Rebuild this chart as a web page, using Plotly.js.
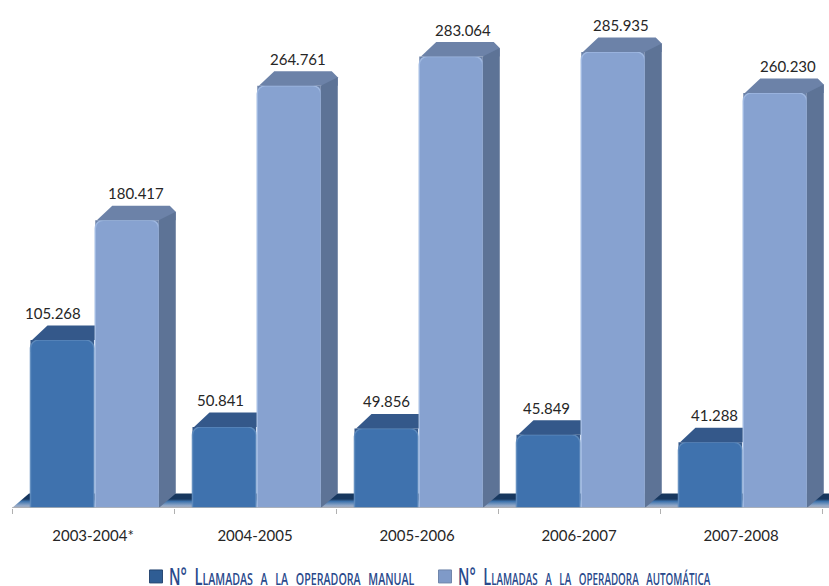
<!DOCTYPE html>
<html><head><meta charset="utf-8">
<script src="https://cdn.plot.ly/plotly-3.0.1.min.js"></script>
<style>html,body{margin:0;padding:0;background:#fff}</style></head>
<body><div id="chart" style="width:829px;height:586px"></div>
<script>
const categories = ['2003-2004*','2004-2005','2005-2006','2006-2007','2007-2008'];
const manual = [105268,50841,49856,45849,41288];
const automatica = [180417,264761,283064,285935,260230];
const manualLabels = ['105.268','50.841','49.856','45.849','41.288'];
const autoLabels = ['180.417','264.761','283.064','285.935','260.230'];
const manualNudge = [-9,-4,0,-2,4];
const autoNudge = [9,9,12,8,13];
const nameManual = 'N°  Llamadas  a  la  operadora  manual';
const nameAuto = 'N°  Llamadas  a  la  operadora  automática';

const W = 829, H = 586, left = 12, base = 508;
const pxX = 162, pxY = 1.595/1000;           // pixels per axis unit
const plotH = base, plotW = W-left;
const dx = 17/pxX, rise = 14.5/pxY, chX = 6/pxX, chY = 6/pxY;
const barW = 0.392, gap = 0.008, shift = 0.01;
const centers = categories.map((c,i)=>i+0.5+shift);
const edges = categories.map((c,i)=>i).concat([categories.length]);
const xMax = plotW/pxX, yMax = plotH/pxY;
const L0 = c=>c-gap/2-barW, R0 = c=>c-gap/2, L1 = c=>c+gap/2, R1 = c=>c+gap/2+barW;
const topDark = '#34588a', topLight = '#6c82a8', sideLight = '#5d7396';

function poly(xs,ys,color,z){return {type:'scatter',mode:'lines',x:xs,y:ys,fill:'toself',fillcolor:color,
  line:{width:0,color:color},hoverinfo:'skip',showlegend:false,zorder:z};}

const traces = [];
traces.push({type:'scatter',mode:'lines',x:[0,dx,xMax,xMax,0],y:[0,rise,rise,0,0],fill:'toself',
  line:{width:0},hoverinfo:'skip',showlegend:false,zorder:0,
  fillgradient:{type:'vertical',colorscale:[[0,'#a9afbd'],[0.18,'#8fa6c6'],[0.45,'#3f74ad'],[0.62,'#17375e'],[1,'#17375e']]}});
traces.push({type:'bar',name:nameManual,x:centers,y:manual,width:barW,offset:-gap/2-barW,zorder:2,
  marker:{color:'#3f72ae',line:{color:'rgba(95,140,190,0.9)',width:1.5},cornerradius:8},hoverinfo:'y'});
traces.push({type:'bar',name:nameAuto,x:centers,y:automatica,width:barW,offset:gap/2,zorder:2,
  marker:{color:'#87a2d0',line:{color:'rgba(160,185,225,0.95)',width:1.5},cornerradius:8},hoverinfo:'y'});
centers.forEach((c,i)=>{
  const a=manual[i], b=automatica[i], t=b+rise;
  traces.push(poly([L0(c),R0(c),R0(c),L0(c),L0(c)],[a-2*chY,a-2*chY,a,a,a-2*chY],topDark,1));
  traces.push(poly([L1(c),R1(c),R1(c),L1(c),L1(c)],[b-2*chY,b-2*chY,b,b,b-2*chY],topLight,1));
  traces.push(poly([L0(c)+0.01,L0(c)+dx,L1(c)-0.004,L1(c)-0.004,L0(c)+0.01],[a,a+rise,a+rise,a,a],topDark,3));
  traces.push(poly([L1(c)+0.01,L1(c)+dx,R1(c)+dx-chX,R1(c)+dx,R1(c)+dx,R1(c),L1(c)+0.01],[b,t,t,t-chY,b,b,b],topLight,3));
  traces.push(poly([R1(c),R1(c)+dx,R1(c)+dx,R1(c),R1(c)],[0,rise,t-chY,b,0],sideLight,3));
});
const annotations = [];
centers.forEach((c,i)=>{
  annotations.push({x:(L0(c)+R0(c))/2,y:manual[i],text:manualLabels[i],showarrow:false,xshift:manualNudge[i],yshift:27,
    font:{family:'Lato, sans-serif',size:15,color:'#262626'}});
  annotations.push({x:(L1(c)+R1(c))/2,y:automatica[i],text:autoLabels[i],showarrow:false,xshift:autoNudge[i],yshift:27,
    font:{family:'Lato, sans-serif',size:15,color:'#262626'}});
});
const layout = {
  width:W,height:H,margin:{l:0,r:0,t:0,b:0},paper_bgcolor:'#fff',plot_bgcolor:'rgba(0,0,0,0)',
  barmode:'overlay',
  xaxis:{domain:[left/W,1],range:[0,xMax],tickmode:'array',tickvals:categories.map((c,i)=>i+0.5),ticktext:categories,
    ticks:'outside',ticklen:14,tickcolor:'rgba(0,0,0,0)',showgrid:false,zeroline:false,showline:false,automargin:false,
    tickfont:{family:'Lato, sans-serif',size:15,color:'#262626'},
    minor:{tickmode:'array',tickvals:edges,ticks:'outside',ticklen:5,tickcolor:'#b0b0b0',tickwidth:1,showgrid:false}},
  yaxis:{domain:[1-base/H,1],range:[0,yMax],visible:false,fixedrange:true},
  shapes:[{type:'line',xref:'x',yref:'y',x0:0,x1:edges[edges.length-1],y0:0,y1:0,line:{color:'#b0b0b0',width:1.5}}],
  showlegend:true,
  legend:{orientation:'h',x:136/W,y:60/H,xanchor:'left',yanchor:'top',itemwidth:30,entrywidth:244,entrywidthmode:'pixels',traceorder:'normal',
    font:{family:'"Liberation Sans Narrow","Open Sans",sans-serif',size:23,weight:600,color:'#2a4a8c',variant:'small-caps'},itemclick:false,itemdoubleclick:false},
  annotations:annotations
};
const legendWidths = [238,258];
const iconFill = ['#2f5d94','#7f9ac8'], iconStroke = ['#1f3f6a','#6c82a8'];
Plotly.newPlot('chart',traces,layout,{displayModeBar:false,staticPlot:true}).then(()=>{
  document.querySelectorAll('.legend .legendtext').forEach((t,i)=>{
    const sx = legendWidths[i]/t.getComputedTextLength();
    t.setAttribute('x',0);
    t.setAttribute('transform','translate(33,0) scale('+sx+',1)');
  });
  document.querySelectorAll('.legend .legendbar path, .legend .legendpoints path').forEach((p,i)=>{
    p.setAttribute('d','M6.5,6.5H-6.5V-6.5H6.5Z');
    p.style.fill=iconFill[i];p.style.stroke=iconStroke[i];p.style.strokeWidth='1px';
  });
  document.querySelectorAll('.legend [clip-path]').forEach(e=>e.removeAttribute('clip-path'));
  const lg=document.querySelector('.legend');
  lg.removeAttribute('clip-path');
  const m=/translate\(([-\d.]+),\s*([-\d.]+)\)/.exec(lg.getAttribute('transform'));
  if(m){ lg.setAttribute('transform','translate('+m[1]+',555)'); }
  document.querySelectorAll('.legend rect.bg').forEach(r=>{r.style.fill='none';r.style.stroke='none';});
});
</script></body></html>
